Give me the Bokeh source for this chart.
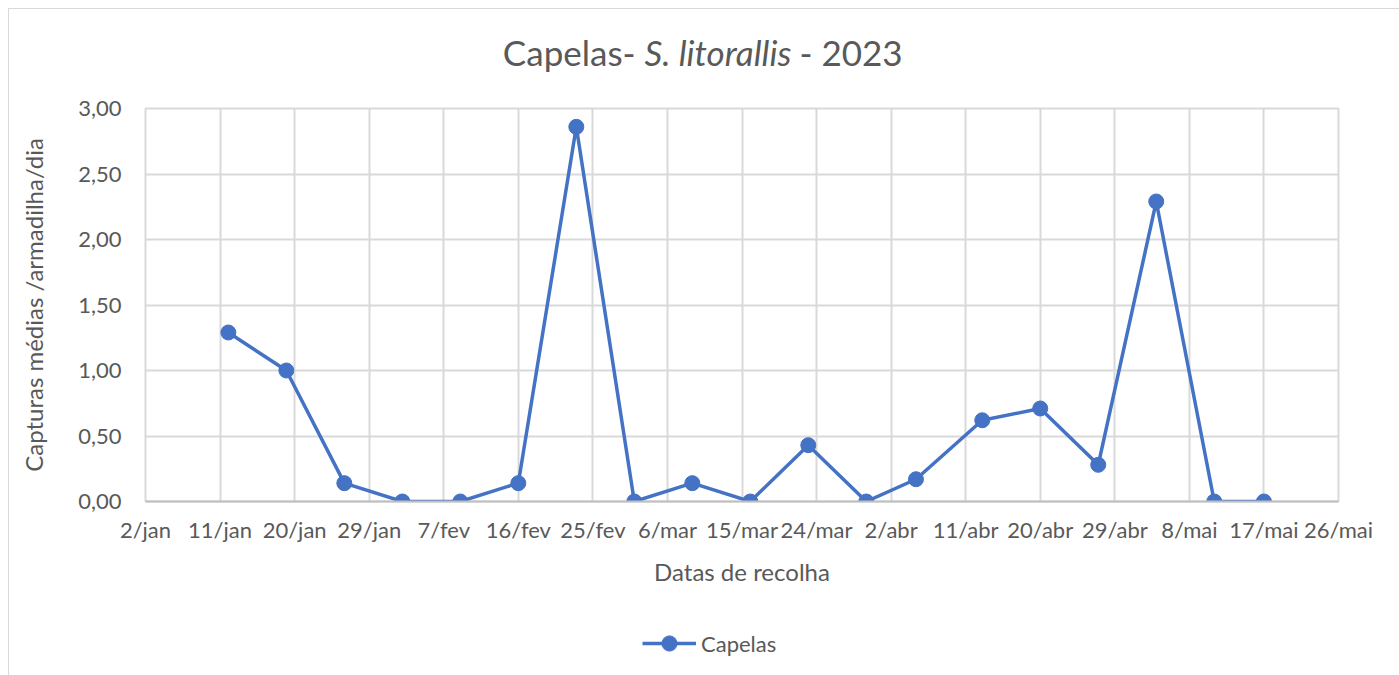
import pandas as pd
from bokeh.plotting import figure
from bokeh.layouts import column
from bokeh.models import (Range1d, FixedTicker, Label, Legend, LegendItem, ColumnDataSource)
from bokeh.embed import file_html
from bokeh.resources import INLINE

# ---- data ----
dates = ["2023-01-12", "2023-01-19", "2023-01-26", "2023-02-02", "2023-02-09",
         "2023-02-16", "2023-02-23", "2023-03-02", "2023-03-09", "2023-03-16",
         "2023-03-23", "2023-03-30", "2023-04-05", "2023-04-13", "2023-04-20",
         "2023-04-27", "2023-05-04", "2023-05-11", "2023-05-17"]
capelas = [1.29, 1.00, 0.14, 0.00, 0.00, 0.14, 2.86, 0.00, 0.14, 0.00,
           0.43, 0.00, 0.17, 0.62, 0.71, 0.28, 2.29, 0.00, 0.00]

x_tick_dates = ["2023-01-02", "2023-01-11", "2023-01-20", "2023-01-29", "2023-02-07",
                "2023-02-16", "2023-02-25", "2023-03-06", "2023-03-15", "2023-03-24",
                "2023-04-02", "2023-04-11", "2023-04-20", "2023-04-29", "2023-05-08",
                "2023-05-17", "2023-05-26"]
x_tick_labels = ["2/jan", "11/jan", "20/jan", "29/jan", "7/fev", "16/fev", "25/fev",
                 "6/mar", "15/mar", "24/mar", "2/abr", "11/abr", "20/abr", "29/abr",
                 "8/mai", "17/mai", "26/mai"]
y_ticks = [0.0, 0.5, 1.0, 1.5, 2.0, 2.5, 3.0]
y_tick_labels = ["0,00", "0,50", "1,00", "1,50", "2,00", "2,50", "3,00"]

title_parts = ["Capelas- ", "S. litorallis", "- 2023"]
series_name = "Capelas"
x_title = "Datas de recolha"
y_title = "Capturas médias /armadilha/dia"

# ---- styling ----
FONT = "Lato"
TXT = "#595959"
GRID = "#d9d9d9"
BLUE = "#4472C4"
W = 1390                 # canvas width (page x 9 .. 1399)
BL, BR = 136, 61         # shared left / right borders -> frame at page x 145..1338
TOP_H, MAIN_H, LEG_H = 83, 518, 65


def ms(d):
    return int(pd.Timestamp(d).value // 10**6)


def strip(height, y_bottom, y_top):
    f = figure(width=W, height=height, output_backend="svg", toolbar_location=None,
               x_range=Range1d(145, 1338), y_range=Range1d(y_bottom, y_top),
               x_axis_location=None, y_axis_location=None,
               min_border_left=BL, min_border_right=BR,
               min_border_top=0, min_border_bottom=0,
               outline_line_color=None)
    f.grid.visible = False
    return f


# ---- title strip (normal + italic parts), page y 9..92 ----
t = strip(TOP_H, 92, 9)
common = dict(y=51, text_color=TXT, text_font=FONT, text_font_size="35px",
              text_baseline="alphabetic")
t.add_layout(Label(x=644, text=title_parts[0], text_align="right", **common))
t.add_layout(Label(x=644, text=title_parts[1], text_align="left",
                   text_font_style="italic", **common))
t.add_layout(Label(x=799, text=title_parts[2], text_align="left", **common))

# ---- main chart, page y 92..610 ----
xs = [pd.Timestamp(d) for d in dates]
src = ColumnDataSource(data=dict(x=xs, y=capelas))
xt = [ms(d) for d in x_tick_dates]

p = figure(width=W, height=MAIN_H, x_axis_type="datetime",
           output_backend="svg", toolbar_location=None,
           min_border_left=BL, min_border_right=BR,
           min_border_top=16, min_border_bottom=109)
p.outline_line_color = GRID
p.outline_line_width = 2
p.x_range = Range1d(start=xt[0], end=xt[-1])
p.y_range = Range1d(start=y_ticks[0], end=y_ticks[-1])

p.xaxis.ticker = FixedTicker(ticks=xt)
p.xaxis.major_label_overrides = {tk: lb for tk, lb in zip(xt, x_tick_labels)}
p.xaxis.axis_line_color = "#bfbfbf"
p.xaxis.axis_line_width = 2
p.xaxis.major_tick_line_color = None
p.xaxis.minor_tick_line_color = None
p.xaxis.major_label_text_font = FONT
p.xaxis.major_label_text_font_size = "22px"
p.xaxis.major_label_text_color = TXT
p.xaxis.major_label_standoff = 8
p.xaxis.axis_label = x_title
p.xaxis.axis_label_text_font = FONT
p.xaxis.axis_label_text_font_size = "24px"
p.xaxis.axis_label_text_font_style = "normal"
p.xaxis.axis_label_text_color = TXT
p.xaxis.axis_label_standoff = 11

p.yaxis.ticker = FixedTicker(ticks=y_ticks)
p.yaxis.major_label_overrides = {tk: lb for tk, lb in zip(y_ticks, y_tick_labels)}
p.yaxis.axis_line_color = None
p.yaxis.major_tick_line_color = None
p.yaxis.minor_tick_line_color = None
p.yaxis.major_label_text_font = FONT
p.yaxis.major_label_text_font_size = "22px"
p.yaxis.major_label_text_color = TXT
p.yaxis.major_label_standoff = 18
p.yaxis.axis_label = y_title
p.yaxis.axis_label_text_font = FONT
p.yaxis.axis_label_text_font_size = "24px"
p.yaxis.axis_label_text_font_style = "normal"
p.yaxis.axis_label_text_color = TXT
p.yaxis.axis_label_standoff = 27

p.xgrid.grid_line_color = GRID
p.xgrid.grid_line_width = 2
p.ygrid.grid_line_color = GRID
p.ygrid.grid_line_width = 2

p.line("x", "y", source=src, line_color=BLUE, line_width=3.5, line_join="round")
p.scatter("x", "y", source=src, size=15, fill_color=BLUE, line_color=BLUE)

# ---- legend strip, page y 610..675 (proxy renderers fall outside its range) ----
lg = strip(LEG_H, 675, 610)
lg_line = lg.line("x", "y", source=src, line_color=BLUE, line_width=3.5)
lg_pt = lg.scatter("x", "y", source=src, size=15, fill_color=BLUE, line_color=BLUE)
legend = Legend(items=[LegendItem(label=series_name, renderers=[lg_line, lg_pt])],
                location=(497, 13), orientation="horizontal",
                border_line_color=None, background_fill_alpha=0,
                padding=0, margin=0, glyph_width=54, glyph_height=38,
                label_height=38, label_standoff=5,
                label_text_font=FONT, label_text_font_size="22px",
                label_text_color=TXT)
lg.add_layout(legend, "center")

layout = column(t, p, lg, spacing=0,
                styles={"margin-left": "8px", "margin-top": "8px",
                        "border-left": "1px solid #d9d9d9",
                        "border-top": "1px solid #d9d9d9"})

open("out.html", "w").write(file_html(layout, INLINE))
